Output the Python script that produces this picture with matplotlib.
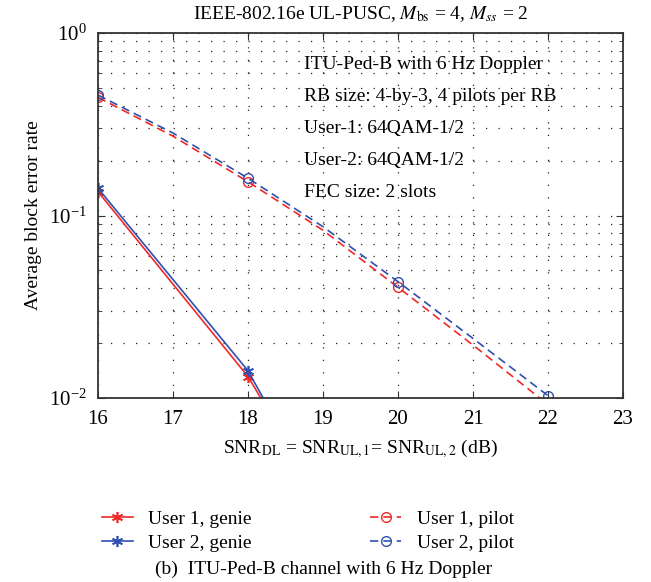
import numpy as np
import matplotlib
matplotlib.use('Agg')
import matplotlib.pyplot as plt
from matplotlib.ticker import LogLocator, NullFormatter

plt.rcParams['font.family'] = ['Liberation Serif', 'DejaVu Serif']
plt.rcParams['mathtext.fontset'] = 'stix'

# values
snr_db = [16, 18, 20, 22]
bler_user1_genie = [0.135, 0.0131, 5.5e-4, 2e-5]
bler_user2_genie = [0.141, 0.0141, 4.7e-4, 1.5e-5]
snr_pilot_db = [16, 17, 18, 19, 20, 21, 22]
bler_user1_pilot = [0.444, 0.272, 0.153, 0.083, 0.0404, 0.0195, 0.0092]
bler_user2_pilot = [0.457, 0.283, 0.160, 0.0868, 0.0434, 0.0212, 0.0103]

info_lines = ['ITU-Ped-B with 6 Hz Doppler',
              'RB size: 4-by-3, 4 pilots per RB',
              'User-1: 64QAM-1/2',
              'User-2: 64QAM-1/2',
              'FEC size: 2 slots']

red_col = '#f02828'
blue_col = '#3050b0'
fs = 14
star = (6, 2, 0)

fig = plt.figure(figsize=(6.51, 5.82), dpi=100)
ax = fig.add_axes([98/651, 1 - 398/582, 525/651, 365/582])

ax.semilogy(snr_db, bler_user1_genie, color=red_col, lw=1.2, marker=star, ms=8,
            mew=1.2, label='User 1, genie')
ax.semilogy(snr_db, bler_user2_genie, color=blue_col, lw=1.2, marker=star, ms=8,
            mew=1.2, label='User 2, genie')
ax.semilogy(snr_pilot_db, bler_user1_pilot, color=red_col, lw=1.2, ls=(0, (5, 3)),
            marker='o', ms=7, mfc='none', markevery=2, label='User 1, pilot')
ax.semilogy(snr_pilot_db, bler_user2_pilot, color=blue_col, lw=1.2, ls=(0, (5, 3)),
            marker='o', ms=7, mfc='none', markevery=2, label='User 2, pilot')

ax.set_xlim(16, 23)
ax.set_ylim(1e-2, 1)
ax.set_xticks(range(16, 24))
ax.yaxis.set_major_locator(LogLocator(base=10, numticks=5))
ax.yaxis.set_minor_locator(LogLocator(base=10, subs=np.arange(2, 10), numticks=20))
ax.yaxis.set_minor_formatter(NullFormatter())
ax.tick_params(which='both', direction='in', top=True, right=True, labelsize=15,
               color='#333333')
ax.tick_params(which='major', length=5)
ax.tick_params(which='minor', length=3)
ax.tick_params(axis='x', pad=9)
ax.tick_params(axis='y', pad=8)
ax.grid(which='major', axis='both', color='#222222', ls=(0, (1, 9)), lw=0.9)
ax.grid(which='minor', axis='y', color='#222222', ls=(0, (1, 9)), lw=0.9)
for sp in ax.spines.values():
    sp.set_color('#333333')
    sp.set_linewidth(1.3)

ax.set_title(r'IEEE-802.16e UL-PUSC, $M_{\rm bs}$ = 4, $M_{ss}$ = 2', fontsize=fs, pad=10)
ax.set_ylabel('Average block error rate', fontsize=fs, labelpad=5)
ax.set_xlabel(r'SNR$_{\rm DL}$ = SNR$_{\rm UL,1}$= SNR$_{\rm UL,2}$ (dB)', fontsize=fs,
              labelpad=6)

for i, line in enumerate(info_lines):
    ax.text(0.392, 0.914 - i * 0.0875, line, transform=ax.transAxes, fontsize=fs,
            va='center', ha='left')

fig.legend(loc='center left', bbox_to_anchor=(84/651, 1 - 531/582), ncol=2, frameon=False,
           fontsize=fs, handlelength=1.6, columnspacing=6.1, labelspacing=0.3,
           handletextpad=0.8)

fig.text(0.497, 1 - 569/582, '(b)  ITU-Ped-B channel with 6 Hz Doppler', fontsize=fs,
         ha='center', va='center')

fig.savefig('out.png', dpi=100)
